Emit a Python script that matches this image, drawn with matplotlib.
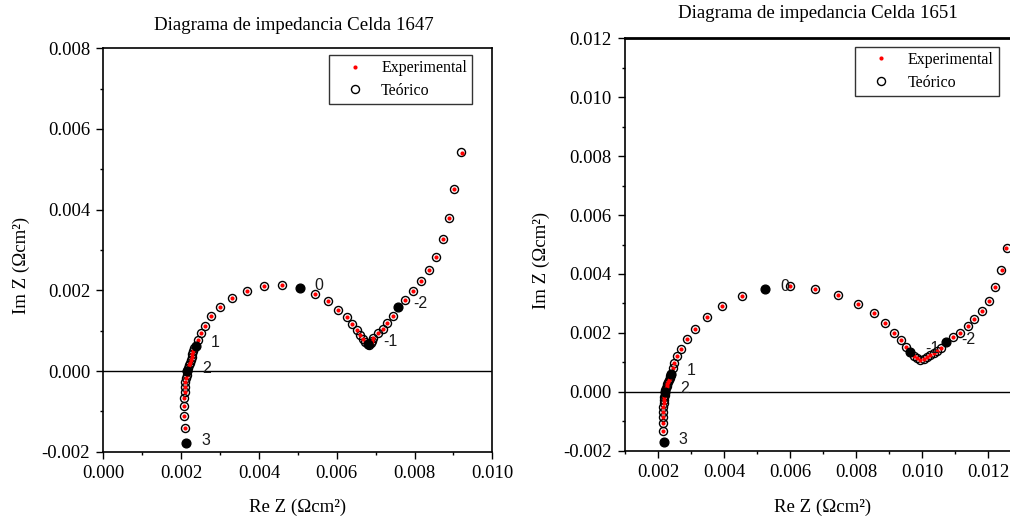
import matplotlib
matplotlib.use("Agg")
import matplotlib.pyplot as plt
from matplotlib.ticker import MultipleLocator, FormatStrFormatter
import numpy as np

# ---------------- data (units: Ohm cm^2, values in 1e-3) ----------------
# Celda 1647
teo1_x = [2.103, 2.085, 2.085, 2.085, 2.094, 2.103, 2.111, 2.128, 2.145,
          2.160, 2.180, 2.200, 2.220, 2.245, 2.270, 2.290, 2.315, 2.340,
          2.435, 2.508, 2.615, 2.781, 3.005, 3.317, 3.693, 4.133, 4.594,
          5.442, 5.784, 6.041, 6.257, 6.393, 6.514, 6.599, 6.668, 6.735,
          6.840, 6.880, 6.910, 6.941, 7.069, 7.183, 7.301, 7.440,
          7.764, 7.969, 8.167, 8.381, 8.553, 8.725, 8.879, 9.015, 9.195]
teo1_y = [-1.410, -1.107, -0.859, -0.669, -0.520, -0.395, -0.275, -0.175, -0.090,
          0.000, 0.070, 0.140, 0.210, 0.280, 0.350, 0.420, 0.490, 0.560,
          0.764, 0.937, 1.123, 1.355, 1.585, 1.812, 1.994, 2.110, 2.120,
          1.915, 1.725, 1.519, 1.328, 1.165, 1.016, 0.892, 0.793, 0.720,
          0.650, 0.690, 0.740, 0.820, 0.935, 1.053, 1.195, 1.360,
          1.767, 1.990, 2.230, 2.503, 2.832, 3.261, 3.799, 4.510, 5.427]
exp1_x = list(teo1_x)
exp1_y = list(teo1_y)
exp1_x[-1], exp1_y[-1] = 9.210, 5.400
exp1_x[-2], exp1_y[-2] = 9.025, 4.500
exp1_x[-3], exp1_y[-3] = 8.890, 3.790

dec1_x = [2.128, 2.150, 2.376, 5.049, 6.800, 7.584]
dec1_y = [-1.790, 0.000, 0.630, 2.057, 0.660, 1.590]
dec_labels = ['3', '2', '1', '0', '-1', '-2']

# Celda 1651
teo2_x = [2.152, 2.152, 2.152, 2.152, 2.162, 2.172, 2.182, 2.192, 2.202,
          2.225, 2.245, 2.265, 2.285, 2.310, 2.330, 2.355, 2.375, 2.390,
          2.440, 2.475, 2.576, 2.697, 2.879, 3.131, 3.480, 3.929, 4.540,
          6.010, 6.768, 7.455, 8.051, 8.535, 8.889, 9.162, 9.374, 9.525,
          9.747, 9.848, 9.949, 10.050, 10.150, 10.250, 10.370, 10.450, 10.580,
          10.935, 11.160, 11.380, 11.590, 11.815, 12.035, 12.215, 12.394, 12.576]
teo2_y = [-1.333, -1.051, -0.847, -0.678, -0.531, -0.395, -0.282, -0.181, -0.100,
          0.060, 0.130, 0.200, 0.270, 0.340, 0.410, 0.480, 0.540, 0.580,
          0.800, 0.970, 1.209, 1.458, 1.780, 2.142, 2.531, 2.915, 3.243,
          3.575, 3.503, 3.293, 2.995, 2.661, 2.333, 2.011, 1.757, 1.537,
          1.220, 1.130, 1.085, 1.107, 1.164, 1.243, 1.333, 1.390, 1.503,
          1.853, 2.011, 2.231, 2.475, 2.751, 3.096, 3.548, 4.132, 4.880]
exp2_x = list(teo2_x)
exp2_y = list(teo2_y)
exp2_x[-1], exp2_y[-1] = 12.540, 4.870
exp2_x[-2], exp2_y[-2] = 12.415, 4.150

dec2_x = [2.172, 2.210, 2.404, 5.242, 9.646, 10.727]
dec2_y = [-1.706, 0.000, 0.610, 3.480, 1.360, 1.680]

titles = ["Diagrama de impedancia Celda 1647", "Diagrama de impedancia Celda 1651"]
xlabel = "Re Z (\u03a9cm\u00b2)"
ylabel = "Im Z (\u03a9cm\u00b2)"
legend_labels = ["Experimental", "Te\u00f3rico"]

# ---------------- figure ----------------
serif = ['Liberation Serif', 'DejaVu Serif']
sans = ['Liberation Sans', 'DejaVu Sans']
plt.rcParams['font.family'] = serif

fig = plt.figure(figsize=(10.10, 5.29), dpi=100)
W, H = 1010, 529

def px_axes(l, t, r, b):
    return fig.add_axes([l / W, 1 - b / H, (r - l) / W, (b - t) / H])

ax1 = px_axes(103.3, 48.3, 492.3, 451.7)
ax2 = px_axes(625.0, 38.3, 1021.0, 450.7)

panels = [
    (ax1, teo1_x, teo1_y, exp1_x, exp1_y, dec1_x, dec1_y,
     (0.0, 0.010), (-0.002, 0.008), (0.9486, 0.9834)),
    (ax2, teo2_x, teo2_y, exp2_x, exp2_y, dec2_x, dec2_y,
     (0.001, 0.013), (-0.002, 0.012), (0.9444, 0.9797)),
]

for (ax, tx, ty, ex, ey, dx, dy, xl, yl, lanchor) in panels:
    tx = np.array(tx) * 1e-3
    ty = np.array(ty) * 1e-3
    ex = np.array(ex) * 1e-3
    ey = np.array(ey) * 1e-3
    dx = np.array(dx) * 1e-3
    dy = np.array(dy) * 1e-3
    ax.axhline(0, color='black', lw=1.0, zorder=1)
    ax.plot(tx, ty, linestyle='none', marker='o', ms=5.8, mfc='none',
            mec='black', mew=1.0, zorder=3, label=legend_labels[1])
    ax.plot(ex, ey, linestyle='none', marker='o', ms=3.0, mfc='red',
            mec='red', mew=0, zorder=4, label=legend_labels[0])
    ax.plot(dx, dy, linestyle='none', marker='o', ms=6.3, mfc='black',
            mec='black', zorder=5)
    for xx, yy, lab in zip(dx, dy, dec_labels):
        ax.annotate(lab, (xx, yy), xytext=(15, 3), textcoords='offset pixels',
                    ha='left', va='center', fontsize=11.5, family=sans,
                    color='#1a1a1a', zorder=6)
    ax.set_xlim(*xl)
    ax.set_ylim(*yl)
    ax.xaxis.set_major_locator(MultipleLocator(0.002))
    ax.xaxis.set_minor_locator(MultipleLocator(0.001))
    ax.yaxis.set_major_locator(MultipleLocator(0.002))
    ax.yaxis.set_minor_locator(MultipleLocator(0.001))
    ax.xaxis.set_major_formatter(FormatStrFormatter('%.3f'))
    ax.yaxis.set_major_formatter(FormatStrFormatter('%.3f'))
    ax.tick_params(which='major', direction='out', length=5, width=1,
                   labelsize=13.5, pad=4.5, top=False, right=False,
                   labelfontfamily='Liberation Serif')
    ax.tick_params(which='minor', direction='out', length=2.5, width=1,
                   top=False, right=False)
    for s in ax.spines.values():
        s.set_linewidth(1.2)
    h, l = ax.get_legend_handles_labels()
    leg = ax.legend([h[1], h[0]], [l[1], l[0]], loc='upper right',
                    bbox_to_anchor=lanchor, borderaxespad=0,
                    prop={'family': 'Liberation Serif', 'size': 11.5},
                    frameon=True, fancybox=False, edgecolor='black',
                    handlelength=2.6, handletextpad=0.35, borderpad=0.33,
                    labelspacing=0.42)
    leg.get_frame().set_linewidth(1.0)

ax2.spines['top'].set_linewidth(2.0)

# titles and axis labels placed in pixel positions
fig.text(293.5 / W, 1 - 25 / H, titles[0], ha='center', va='center', fontsize=13.6)
fig.text(817.8 / W, 1 - 13.3 / H, titles[1], ha='center', va='center', fontsize=13.6)
fig.text(298 / W, 1 - 507 / H, xlabel, ha='center', va='center', fontsize=13.6)
fig.text(822.5 / W, 1 - 507 / H, xlabel, ha='center', va='center', fontsize=13.6)
fig.text(21.7 / W, 1 - 265 / H, ylabel, ha='center', va='center', fontsize=13.6, rotation=90)
fig.text(541.7 / W, 1 - 260 / H, ylabel, ha='center', va='center', fontsize=13.6, rotation=90)

fig.savefig('out.png', dpi=100)
